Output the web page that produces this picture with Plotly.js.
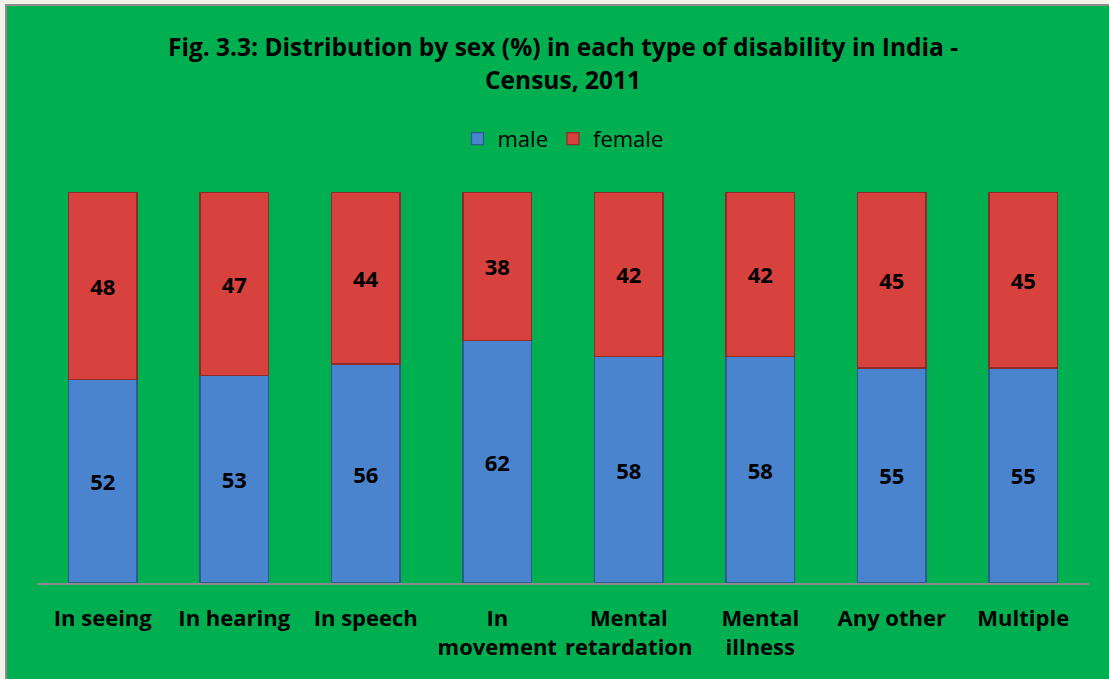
<!DOCTYPE html>
<html><head><meta charset="utf-8">
<script src="https://cdn.plot.ly/plotly-3.0.1.min.js"></script>
<style>
html,body{margin:0;padding:0;background:#F2F2EA;width:1109px;height:679px;overflow:hidden;}
#chart{position:absolute;left:5px;top:4px;width:1104px;height:675px;border-left:2px solid #8c8c8c;border-top:2px solid #8c8c8c;box-sizing:border-box;}
</style></head>
<body><div id="chart"></div>
<script>
const categories = ["In seeing","In hearing","In speech","In<br>movement","Mental<br>retardation","Mental<br>illness","Any other","Multiple"];
const male = [52,53,56,62,58,58,55,55];
const female = [48,47,44,38,42,42,45,45];
const titleLines = ["Fig. 3.3: Distribution by sex (%) in each type of disability in India -", "Census, 2011"];

const FAM = "'Open Sans', sans-serif";
const labelFont = {family:FAM, size:22, color:"#000", weight:"bold"};
const traces = [
 {type:"bar", name:"male", x:categories, y:male, text:male.map(String),
  textposition:"inside", insidetextanchor:"middle", textfont:labelFont, width:0.52,
  marker:{color:"#4A84CE", line:{color:"#2E5A8E", width:1.2}}, hoverinfo:"none"},
 {type:"bar", name:"female", x:categories, y:female, text:female.map(String),
  textposition:"inside", insidetextanchor:"middle", textfont:labelFont, width:0.52,
  marker:{color:"#D7413E", line:{color:"#8E2A28", width:1.2}}, hoverinfo:"none"}
];
const layout = {
 width:1102, height:673,
 barmode:"stack",
 paper_bgcolor:"#00B050", plot_bgcolor:"#00B050",
 margin:{l:30, r:20, t:186, b:96},
 annotations:[
  {text:titleLines[0], xref:"paper", yref:"paper", x:0.5, y:1.3728, xanchor:"center", yanchor:"middle", showarrow:false,
   font:{family:FAM, size:24.5, color:"#000", weight:"bold"}},
  {text:titleLines[1], xref:"paper", yref:"paper", x:0.5, y:1.2879, xanchor:"center", yanchor:"middle", showarrow:false,
   font:{family:FAM, size:24.5, color:"#000", weight:"bold"}}
 ],
 showlegend:true,
 legend:{orientation:"h", x:0.5, xanchor:"center", y:1.1362, yanchor:"middle",
  font:{family:FAM, size:22, color:"#000"},
  traceorder:"normal", itemwidth:30, bgcolor:"rgba(0,0,0,0)"},
 xaxis:{showline:true, linecolor:"#8c8c8c", linewidth:2, ticks:"", showgrid:false,
  tickfont:{family:FAM, size:22, color:"#000", weight:"bold"},
  ticklabelstandoff:15},
 yaxis:{range:[0,100], showgrid:false, showticklabels:false, zeroline:false, showline:false}
};
Plotly.newPlot("chart", traces, layout, {displayModeBar:false, staticPlot:true});
</script></body></html>
